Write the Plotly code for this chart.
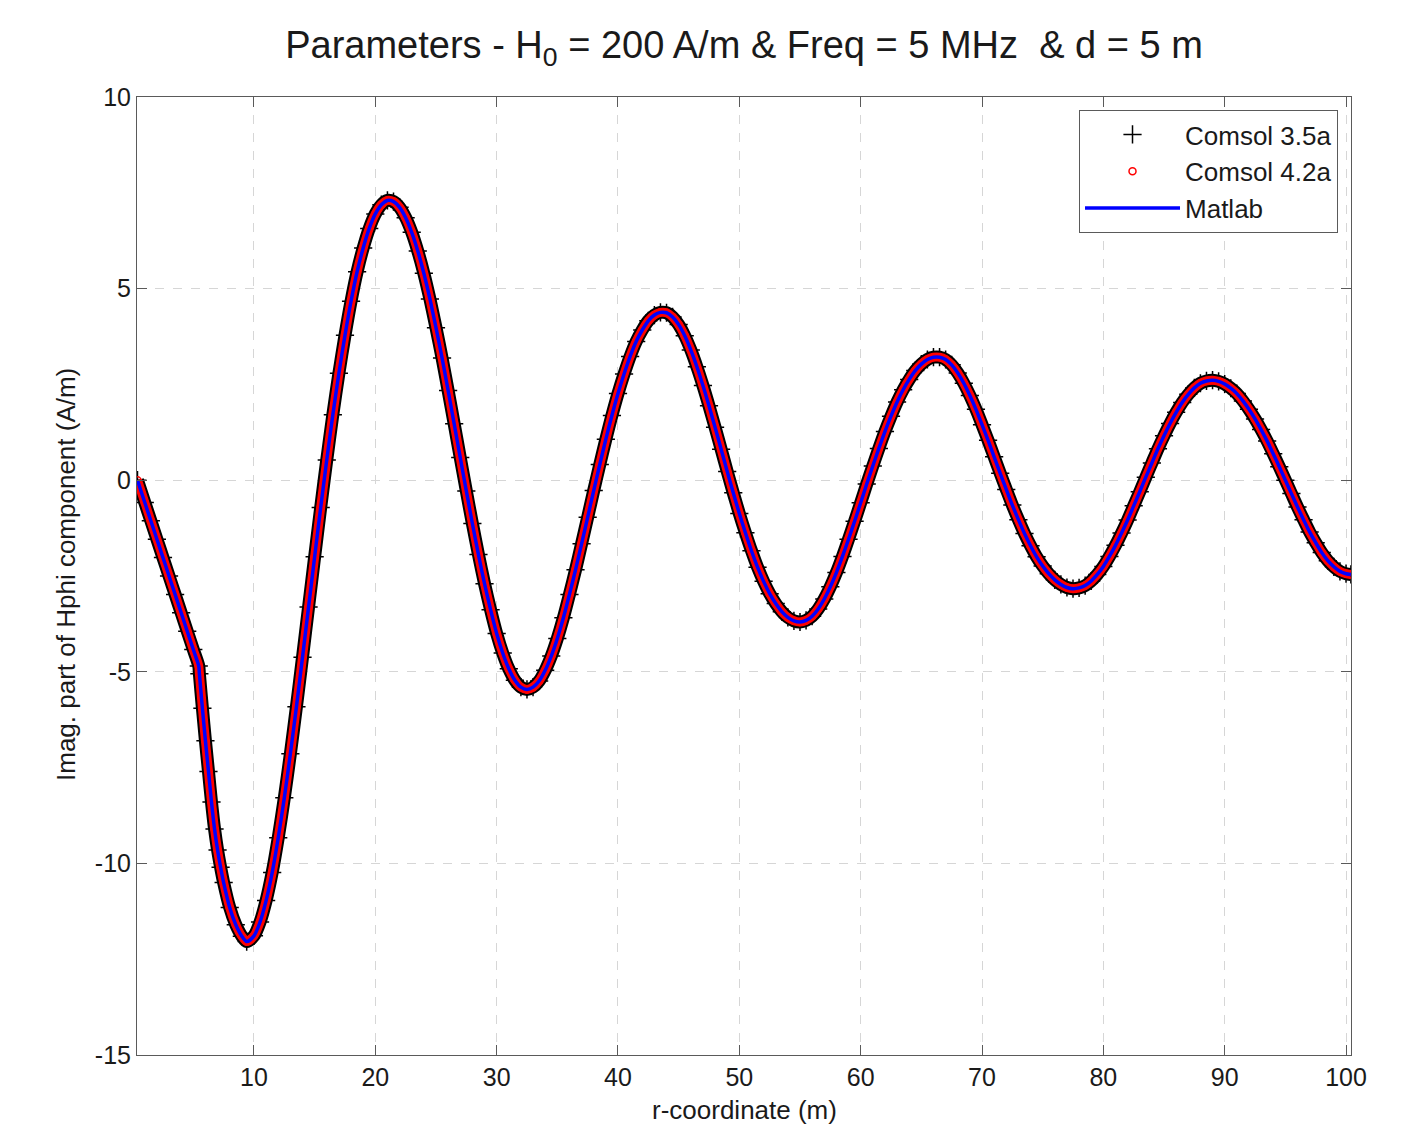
import plotly.graph_objects as go

# r-coordinate (m)
r_coord = [0.4, 1.0, 1.5, 2.0, 2.5, 3.0, 3.5, 4.0, 4.5, 5.0, 5.45, 5.5, 5.75, 6.0, 6.25, 6.5, 6.75,
           7.0, 7.25, 7.5, 8.0, 8.5, 9.0, 9.4, 10.0, 10.5, 11.0, 11.5, 12.0, 12.5, 13.0, 13.5,
           14.0, 14.5, 15.0, 15.5, 16.0, 16.5, 17.0, 17.5, 18.0, 18.5, 19.0, 19.5, 20.0, 20.5,
           21.0, 21.5, 22.0, 22.5, 23.0, 23.5, 24.0, 24.5, 25.0, 25.5, 26.0, 26.5, 27.0, 27.5,
           28.0, 28.5, 29.0, 29.5, 30.0, 30.5, 31.0, 31.5, 32.0, 32.5, 33.0, 33.5, 34.0, 34.5,
           35.0, 35.5, 36.0, 36.5, 37.0, 37.5, 38.0, 38.5, 39.0, 39.5, 40.0, 40.5, 41.0, 41.5,
           42.0, 42.5, 43.0, 43.5, 44.0, 44.5, 45.0, 45.5, 46.0, 46.5, 47.0, 47.5, 48.0, 48.5,
           49.0, 49.5, 50.0, 50.5, 51.0, 51.5, 52.0, 52.5, 53.0, 53.5, 54.0, 54.5, 55.0, 55.5,
           56.0, 56.5, 57.0, 57.5, 58.0, 58.5, 59.0, 59.5, 60.0, 60.5, 61.0, 61.5, 62.0, 62.5,
           63.0, 63.5, 64.0, 64.5, 65.0, 65.5, 66.0, 66.5, 67.0, 67.5, 68.0, 68.5, 69.0, 69.5,
           70.0, 70.5, 71.0, 71.5, 72.0, 72.5, 73.0, 73.5, 74.0, 74.5, 75.0, 75.5, 76.0, 76.5,
           77.0, 77.5, 78.0, 78.5, 79.0, 79.5, 80.0, 80.5, 81.0, 81.5, 82.0, 82.5, 83.0, 83.5,
           84.0, 84.5, 85.0, 85.5, 86.0, 86.5, 87.0, 87.5, 88.0, 88.5, 89.0, 89.5, 90.0, 90.5,
           91.0, 91.5, 92.0, 92.5, 93.0, 93.5, 94.0, 94.5, 95.0, 95.5, 96.0, 96.5, 97.0, 97.5,
           98.0, 98.5, 99.0, 99.5, 100.0, 100.4]

# Imag. part of Hphi (A/m) -- the three solvers coincide on the picture
h_comsol35 = [0.0, -0.58, -1.06, -1.54, -2.02, -2.50, -2.98, -3.46, -3.94, -4.42, -4.85, -5.05, -5.95,
              -6.80, -7.60, -8.40, -9.10, -9.65, -10.10, -10.50, -11.15, -11.60, -11.90, -12.04,
              -11.89, -11.53, -10.97, -10.24, -9.33, -8.29, -7.14, -5.91, -4.62, -3.31, -2.00,
              -0.71, 0.53, 1.71, 2.79, 3.78, 4.67, 5.44, 6.06, 6.57, 6.95, 7.19, 7.30, 7.27, 7.12,
              6.85, 6.47, 5.98, 5.40, 4.73, 3.98, 3.19, 2.34, 1.47, 0.59, -0.28, -1.13, -1.94,
              -2.70, -3.38, -4.00, -4.51, -4.92, -5.22, -5.40, -5.46, -5.40, -5.24, -4.96, -4.59,
              -4.13, -3.59, -2.98, -2.34, -1.66, -0.97, -0.27, 0.41, 1.07, 1.69, 2.26, 2.77, 3.23,
              3.62, 3.92, 4.16, 4.31, 4.38, 4.37, 4.26, 4.06, 3.77, 3.40, 2.96, 2.47, 1.94, 1.38,
              0.81, 0.23, -0.33, -0.87, -1.37, -1.84, -2.27, -2.64, -2.96, -3.22, -3.43, -3.58,
              -3.67, -3.70, -3.66, -3.55, -3.36, -3.10, -2.78, -2.41, -1.99, -1.54, -1.07, -0.59,
              -0.10, 0.37, 0.83, 1.27, 1.67, 2.04, 2.36, 2.63, 2.86, 3.03, 3.15, 3.21, 3.21, 3.15,
              3.01, 2.80, 2.53, 2.21, 1.85, 1.45, 1.04, 0.61, 0.18, -0.24, -0.65, -1.03, -1.39,
              -1.71, -2.00, -2.24, -2.44, -2.60, -2.72, -2.80, -2.83, -2.81, -2.75, -2.63, -2.46,
              -2.25, -1.99, -1.70, -1.38, -1.04, -0.67, -0.30, 0.08, 0.45, 0.82, 1.16, 1.48, 1.77,
              2.03, 2.24, 2.41, 2.53, 2.59, 2.61, 2.58, 2.51, 2.40, 2.26, 2.07, 1.85, 1.60, 1.32,
              1.02, 0.69, 0.35, 0.00, -0.35, -0.70, -1.03, -1.35, -1.63, -1.89, -2.10, -2.26,
              -2.38, -2.44, -2.46]
h_comsol42 = list(h_comsol35)
h_matlab = list(h_comsol35)

series_names = ["Comsol 3.5a", "Comsol 4.2a", "Matlab"]
x_ticks = [10, 20, 30, 40, 50, 60, 70, 80, 90, 100]
y_ticks = [-15, -10, -5, 0, 5, 10]

FONT = "Liberation Sans, Arial, sans-serif"
AX = "#5a5a5a"

fig = go.Figure()
# black '+' band
fig.add_trace(go.Scatter(x=r_coord, y=h_comsol35, mode="lines", showlegend=False, hoverinfo="skip",
                         line=dict(color="black", width=13, shape="spline", smoothing=0.8)))
fig.add_trace(go.Scatter(x=r_coord, y=h_comsol35, mode="markers", name=series_names[0],
                         marker=dict(symbol="cross-thin", size=13, color="black",
                                     line=dict(color="black", width=1.5))))
# red 'o' band
fig.add_trace(go.Scatter(x=r_coord, y=h_comsol42, mode="lines", showlegend=False, hoverinfo="skip",
                         line=dict(color="red", width=9, shape="spline", smoothing=0.8)))
fig.add_trace(go.Scatter(x=r_coord, y=h_comsol42, mode="markers", name=series_names[1],
                         marker=dict(symbol="circle-open", size=7, color="red",
                                     line=dict(color="red", width=1.5))))
fig.add_trace(go.Scatter(x=r_coord, y=h_matlab, mode="lines", name=series_names[2],
                         line=dict(color="blue", width=3.5, shape="spline", smoothing=0.8)))

axis_common = dict(showline=True, linecolor=AX, linewidth=1, mirror="ticks", ticks="inside",
                   ticklen=10, tickcolor=AX, tickwidth=1, showgrid=True, gridcolor="#d6d6d6",
                   griddash="dash", gridwidth=1, zeroline=False,
                   tickfont=dict(family=FONT, size=25, color="#1a1a1a"))

fig.update_xaxes(range=[0.36, 100.41], tickvals=x_ticks, ticktext=[str(v) for v in x_ticks],
                 **axis_common)
fig.update_yaxes(range=[-15, 10], tickvals=y_ticks, ticktext=[str(v) for v in y_ticks],
                 **axis_common)

fig.update_layout(
    width=1412, height=1134,
    margin=dict(l=137, r=61, t=97, b=79),
    paper_bgcolor="white", plot_bgcolor="white",
    title=dict(text="Parameters - H<sub>0</sub> = 200 A/m &amp; Freq = 5 MHz&nbsp; &amp; d = 5 m",
               x=(137 + 1351) / 2 / 1412, xanchor="center", y=1 - 45 / 1134, yanchor="middle",
               yref="container", font=dict(family=FONT, size=38, color="#1a1a1a")),
    legend=dict(x=0.9893, y=0.9864, xanchor="right", yanchor="top", bgcolor="white",
                bordercolor=AX, borderwidth=1, itemwidth=95,
                font=dict(family=FONT, size=26, color="#1a1a1a")),
    annotations=[
        dict(text="r-coordinate (m)", xref="paper", yref="paper", x=0.5, y=-(1110 - 1055) / 958,
             xanchor="center", yanchor="middle", showarrow=False,
             font=dict(family=FONT, size=26, color="#1a1a1a")),
        dict(text="Imag. part of Hphi component (A/m)", xref="paper", yref="paper",
             x=(66 - 137) / 1214, y=(1055 - 575) / 958, xanchor="center", yanchor="middle",
             textangle=-90, showarrow=False, font=dict(family=FONT, size=26, color="#1a1a1a")),
    ],
)

fig.write_html("out.html")
